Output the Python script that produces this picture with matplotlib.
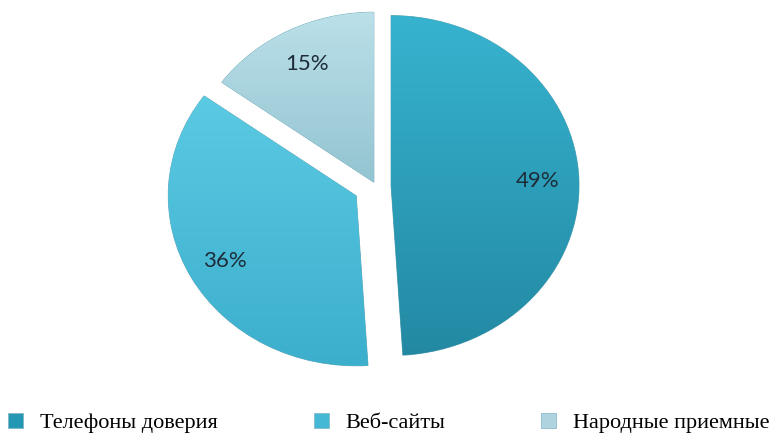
import matplotlib.pyplot as plt
import numpy as np
from matplotlib.colors import LinearSegmentedColormap
from matplotlib.patches import Rectangle

# data
labels = ['Телефоны доверия', 'Веб-сайты', 'Народные приемные']
values = [49, 36, 15]
explode = [0.08, 0.12, 0.025]
label_dist = [0.78, 0.8, 0.78]
# top / bottom colours of each slice
top_colors = ['#37b3cf', '#5bcae3', '#bbe0e9']
bottom_colors = ['#2389a3', '#3cafcd', '#93c4d1']
legend_colors = ['#2497b5', '#45b8d6', '#b0d4df']

fig = plt.figure(figsize=(7.77, 4.36), dpi=100)
ax = fig.add_axes([0, 0, 1, 1])

wedges, texts, autotexts = ax.pie(
    values, explode=explode, colors=legend_colors, startangle=90,
    counterclock=False, autopct=lambda p: '%d%%' % round(p),
    pctdistance=0.8,
    wedgeprops=dict(edgecolor='#6fa9b8', linewidth=0.6),
    textprops=dict(family='Lato', fontsize=16, color='#1d2c38'))

# vertical gradient on each slice
grad = np.linspace(0, 1, 256).reshape(-1, 1)
for w, c1, c2 in zip(wedges, top_colors, bottom_colors):
    cmap = LinearSegmentedColormap.from_list('g', [c2, c1])
    bb = w.get_path().get_extents(w.get_transform() + ax.transData.inverted())
    im = ax.imshow(grad, cmap=cmap, aspect='auto', origin='lower',
                   extent=[bb.x0, bb.x1, bb.y0, bb.y1], zorder=w.get_zorder() + 0.1)
    im.set_clip_path(w)

# move the percent labels a bit
for w, t, d in zip(wedges, autotexts, label_dist):
    ang = np.deg2rad((w.theta1 + w.theta2) / 2)
    cx, cy = w.center
    t.set_position((cx + d * np.cos(ang), cy + d * np.sin(ang)))
    t.set_zorder(5)

# slightly wider than tall, like the original
ax.set_aspect('auto')
ax.set_xlim(-376 / 188, 401 / 188)
ax.set_ylim(-250 / 170, 186 / 170)

handles = [Rectangle((0, 0), 1, 1, facecolor=c, edgecolor='#7fb3c2', linewidth=0.5)
           for c in legend_colors]
fig.legend(handles, labels, ncol=3, loc='center left',
           bbox_to_anchor=(8 / 777, 1 - 423 / 436), frameon=False,
           prop=dict(family='Liberation Serif', size=16),
           handlelength=0.68, handleheight=0.68, handletextpad=0.77,
           columnspacing=4.3, borderpad=0, borderaxespad=0)

fig.savefig('out.png', dpi=100)
